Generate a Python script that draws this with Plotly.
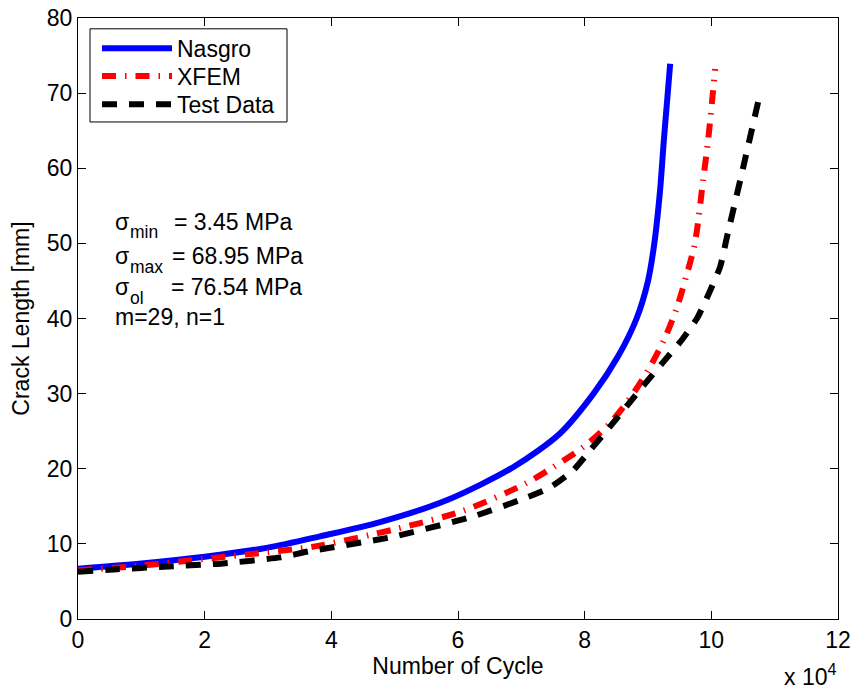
import plotly.graph_objects as go

# Data (x in units of 10^4 cycles, y in mm)
nasgro_x = [0, 1, 2, 3, 3.82, 4.77, 5.82, 6.87, 7.61, 8.14, 8.53, 8.82, 9.0, 9.1, 9.19, 9.25, 9.3, 9.35]
nasgro_y = [6.7, 7.4, 8.3, 9.5, 11.0, 12.9, 15.8, 20.2, 24.7, 30.0, 35.0, 40.0, 45.0, 50.0, 57.0, 63.7, 68.8, 73.9]

xfem_x = [0, 1, 2, 3, 3.7, 5.03, 6.08, 7.06, 7.5, 7.98, 8.37, 8.7, 9.0, 9.25, 9.45, 9.6, 9.74, 9.87, 9.95, 10.06]
xfem_y = [6.5, 7.1, 8.0, 8.9, 9.6, 12.0, 14.4, 18.0, 20.2, 22.9, 25.8, 29.2, 33.1, 37.1, 41.3, 45.5, 50.0, 58.4, 63.8, 73.2]

test_x = [0, 0.56, 1.43, 2.29, 3.19, 3.64, 4.95, 6.22, 7.03, 7.45, 7.82, 8.11, 8.4, 8.69, 8.95, 9.24, 9.53, 9.78, 9.97, 10.14, 10.24, 10.5, 10.76]
test_y = [6.3, 6.6, 7.0, 7.4, 8.2, 9.0, 10.9, 13.6, 16.0, 17.5, 19.8, 22.7, 25.6, 28.6, 31.3, 34.2, 37.1, 40.1, 43.5, 46.9, 50.6, 60.0, 69.6]

x_ticks = [0, 2, 4, 6, 8, 10, 12]
y_ticks = [0, 10, 20, 30, 40, 50, 60, 70, 80]

# Text block: (symbol, subscript, value text)
sigma_rows = [("σ", "min", "= 3.45 MPa"),
              ("σ", "max", "= 68.95 MPa"),
              ("σ", "ol", "= 76.54 MPa")]
exponent_row = "m=29, n=1"

FONT = "Liberation Sans, Arial, Helvetica, sans-serif"
FS = 23
SUBFS = 17.5

fig = go.Figure()
fig.add_trace(go.Scatter(x=nasgro_x, y=nasgro_y, mode="lines", name="Nasgro", legend="legend",
                         line=dict(color="#0000ff", width=6, shape="spline", smoothing=0.8)))
fig.add_trace(go.Scatter(x=xfem_x, y=xfem_y, mode="lines", name="XFEM", legend="legend2",
                         line=dict(color="#ff0000", width=6, dash="14px,9px,1.5px,9px",
                                   shape="spline", smoothing=0.8)))
fig.add_trace(go.Scatter(x=test_x, y=test_y, mode="lines", name="Test Data", legend="legend3",
                         line=dict(color="#000000", width=6, dash="15px,12px",
                                   shape="spline", smoothing=0.5)))

axis_common = dict(showline=True, linecolor="black", linewidth=1, mirror="ticks",
                   ticks="inside", ticklen=8, tickcolor="black", tickwidth=1,
                   showgrid=False, zeroline=False, automargin=False,
                   tickfont=dict(family=FONT, size=FS, color="black"))

fig.update_xaxes(range=[0, 12], tickvals=x_ticks, ticktext=[str(v) for v in x_ticks],
                 title=dict(text="Number of Cycle", font=dict(family=FONT, size=FS, color="black"), standoff=4),
                 **axis_common)
fig.update_yaxes(range=[0, 80], tickvals=y_ticks, ticktext=[str(v) for v in y_ticks],
                 title=dict(text="Crack Length [mm]", font=dict(family=FONT, size=FS, color="black"), standoff=10),
                 **axis_common)

ann_font = dict(family=FONT, size=FS, color="black")
sub_font = dict(family=FONT, size=SUBFS, color="black")
row_y = [52.85, 48.32, 44.13]
sub_y = [51.45, 46.92, 42.73]
val_x = [1.479, 1.453, 1.442]
for (sym, sub, val), yy, sy, vx in zip(sigma_rows, row_y, sub_y, val_x):
    fig.add_annotation(x=0.553, y=yy, xref="x", yref="y", text=sym, showarrow=False,
                       xanchor="left", yanchor="middle", font=ann_font)
    fig.add_annotation(x=0.789, y=sy, xref="x", yref="y", text=sub, showarrow=False,
                       xanchor="left", yanchor="middle", font=sub_font)
    fig.add_annotation(x=vx, y=yy, xref="x", yref="y", text=val, showarrow=False,
                       xanchor="left", yanchor="middle", font=ann_font)
fig.add_annotation(x=0.553, y=40.2, xref="x", yref="y", text=exponent_row, showarrow=False,
                   xanchor="left", yanchor="middle", font=ann_font)

fig.add_annotation(x=1.0, y=-0.093, xref="paper", yref="paper", text="x 10<sup>4</sup>",
                   showarrow=False, xanchor="right", yanchor="middle", font=ann_font)

# legend frame
fig.add_shape(type="rect", xref="paper", yref="paper", x0=0.0158, x1=0.275, y0=0.827, y1=0.982,
              line=dict(color="black", width=1), fillcolor="white", layer="above")

leg_common = dict(x=0.025, xanchor="left", yanchor="middle", bgcolor="rgba(0,0,0,0)",
                  borderwidth=0, font=dict(family=FONT, size=FS, color="black"), itemwidth=70)

fig.update_layout(
    width=858, height=693,
    margin=dict(l=78, r=20, t=18, b=74, autoexpand=False),
    paper_bgcolor="white", plot_bgcolor="white",
    font=dict(family=FONT, size=FS, color="black"),
    showlegend=True,
    legend=dict(y=0.9496, **leg_common),
    legend2=dict(y=0.9035, **leg_common),
    legend3=dict(y=0.8564, **leg_common),
)

fig.write_html("out.html", config={"displayModeBar": False},
               post_script="document.body.style.margin='0';document.body.style.overflow='hidden';")
